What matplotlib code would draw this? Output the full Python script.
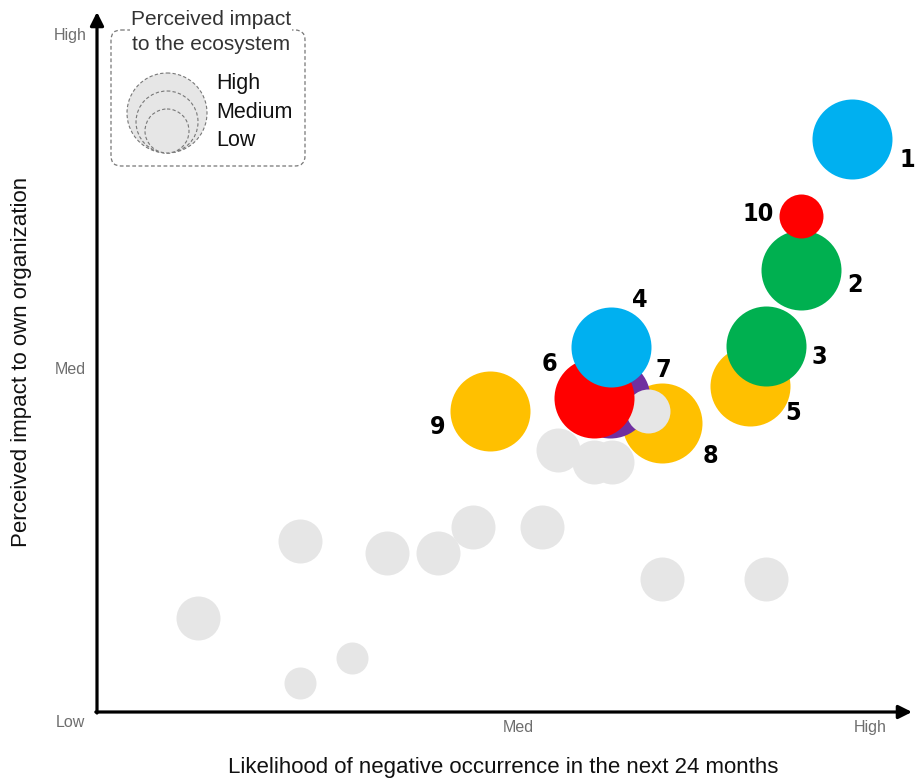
import matplotlib

matplotlib.use("Agg")

import matplotlib.pyplot as plt
from matplotlib.patches import Circle, FancyBboxPatch

DPI = 100
TEXT_FONT = "Liberation Sans"

# risk id, likelihood (0-100), perceived impact on own org (0-100), ecosystem impact
risk_ids = ["9", "8", "7", "6", "4", "5", "3", "2", "10", "1"]
risk_likelihood = [50.8, 73.1, 66.4, 64.3, 66.5, 84.5, 86.5, 91.1, 91.1, 97.7]
risk_impact = [44.5, 42.8, 46.4, 46.4, 54.0, 48.2, 54.1, 65.4, 73.4, 84.8]
risk_eco = ["High", "High", "High", "High", "High", "High", "High", "High", "Low", "High"]

# unnamed risks shown in grey
other_likelihood = [13.1, 26.3, 37.5, 44.1, 48.6, 57.6, 59.6, 64.3, 66.6, 73.1, 86.5, 33.0, 26.3, 71.3]
other_impact = [13.9, 25.3, 23.5, 23.5, 27.4, 27.4, 38.8, 37.0, 37.0, 19.7, 19.7, 8.0, 4.3, 44.5]
other_eco = ["Low"] * 11 + ["Minor", "Minor", "Low"]

axis_labels = ["Low", "Med", "High"]
axis_label_pos = [0, 54.5, 100]
axis_label_pos_y = [0, 50.7, 100]

COLORS = {
    "1": "#00B0F0", "4": "#00B0F0",
    "2": "#00B050", "3": "#00B050",
    "5": "#FFC000", "8": "#FFC000", "9": "#FFC000",
    "6": "#FF0000", "10": "#FF0000",
    "7": "#7030A0",
}
GREY = "#E6E6E6"
RADIUS_PX = {"High": 40, "Medium": 31, "Low": 22, "Minor": 16}

# label offsets from bubble centre, pixels (right, down)
LABEL_OFFSET = {
    "1": (55, 21), "10": (-43, -2), "2": (54, 15), "3": (54, 11), "5": (43, 27),
    "4": (29, -47), "6": (-45, -34), "7": (53, -28), "8": (48, 33), "9": (-52, 16),
}

PX_X = 7.73  # pixels per unit
PX_Y = 6.76
X0, Y0 = 97, 712
W, H = 915, 779


def marker_area(r_px):
    return (2 * r_px * 72 / DPI) ** 2


fig = plt.figure(figsize=(W / DPI, H / DPI), dpi=DPI)
ax = fig.add_axes([0, 0, 1, 1])
ax.set_xlim(-X0 / PX_X, (W - X0) / PX_X)
ax.set_ylim((Y0 - H) / PX_Y, Y0 / PX_Y)
ax.axis("off")

# grey bubbles; the last one sits between 7 and 6
for i, (x, y, e) in enumerate(zip(other_likelihood, other_impact, other_eco)):
    z = 5.5 if i == len(other_eco) - 1 else 2
    ax.scatter(x, y, s=marker_area(RADIUS_PX[e]), color=GREY, linewidths=0, zorder=z)

for i, (rid, x, y, e) in enumerate(zip(risk_ids, risk_likelihood, risk_impact, risk_eco)):
    ax.scatter(x, y, s=marker_area(RADIUS_PX[e]), color=COLORS[rid], linewidths=0, zorder=3 + i)
    dx, dy = LABEL_OFFSET[rid]
    ax.annotate(rid, (x, y), xytext=(dx * 72 / DPI, -dy * 72 / DPI), textcoords="offset points",
                ha="center", va="center", fontsize=18, fontweight="bold",
                fontstretch="condensed", family="DejaVu Sans", color="black", zorder=20)

# axes arrows
arrow = dict(arrowstyle="-|>", lw=2.3, color="black", mutation_scale=20, shrinkA=0, shrinkB=0)
ax.annotate("", xy=((912 - X0) / PX_X, 0), xytext=(-0.15, 0), arrowprops=arrow, zorder=30)
ax.annotate("", xy=(0, (Y0 - 12) / PX_Y), xytext=(0, -0.15), arrowprops=arrow, zorder=30)

tick_style = dict(fontsize=11.5, color="#6e6e6e", family=TEXT_FONT)
for lab, pos in zip(axis_labels[1:], axis_label_pos[1:]):
    ax.annotate(lab, (pos, 0), xytext=(0, -11.5), textcoords="offset points",
                ha="center", va="center", **tick_style)
for lab, pos in zip(axis_labels[1:], axis_label_pos_y[1:]):
    ax.annotate(lab, (0, pos), xytext=(-19, 0), textcoords="offset points",
                ha="center", va="center", **tick_style)
ax.annotate(axis_labels[0], (0, 0), xytext=(-19, -7.5), textcoords="offset points",
            ha="center", va="center", **tick_style)

fig.text(503 / W, 1 - 767 / H, "Likelihood of negative occurrence in the next 24 months",
         ha="center", va="center", fontsize=16, family=TEXT_FONT, color="#111111")
fig.text(22 / W, 1 - 362 / H, "Perceived impact to own organization", rotation=90,
         ha="center", va="center", fontsize=16, family=TEXT_FONT, color="#111111")

# legend for ecosystem impact, drawn in pixel units
lax = fig.add_axes([100 / W, 1 - 175 / H, 220 / W, 175 / H])
lax.set_xlim(100, 320)
lax.set_ylim(175, 0)
lax.axis("off")
lax.add_patch(FancyBboxPatch((111, 30), 194, 136, boxstyle="round,pad=0,rounding_size=10",
                             fill=False, edgecolor="#777777", linestyle=(0, (3, 2)), lw=0.9))
lax.text(211, 32, "Perceived impact\nto the ecosystem", ha="center", va="center",
         fontsize=15, family=TEXT_FONT, color="#333333", linespacing=1.4,
         bbox=dict(facecolor="white", edgecolor="none", pad=0.5))
for lvl in ["High", "Medium", "Low"]:
    r = RADIUS_PX[lvl]
    lax.add_patch(Circle((167, 153 - r), r, facecolor="#E6E6E6", edgecolor="#777777",
                         linestyle=(0, (3, 2)), lw=0.8))
for lvl, yy in zip(["High", "Medium", "Low"], [84, 113, 141]):
    lax.text(216, yy, lvl, ha="left", va="center", fontsize=15.5, family=TEXT_FONT, color="#111111")

fig.savefig("out.png", dpi=DPI)
